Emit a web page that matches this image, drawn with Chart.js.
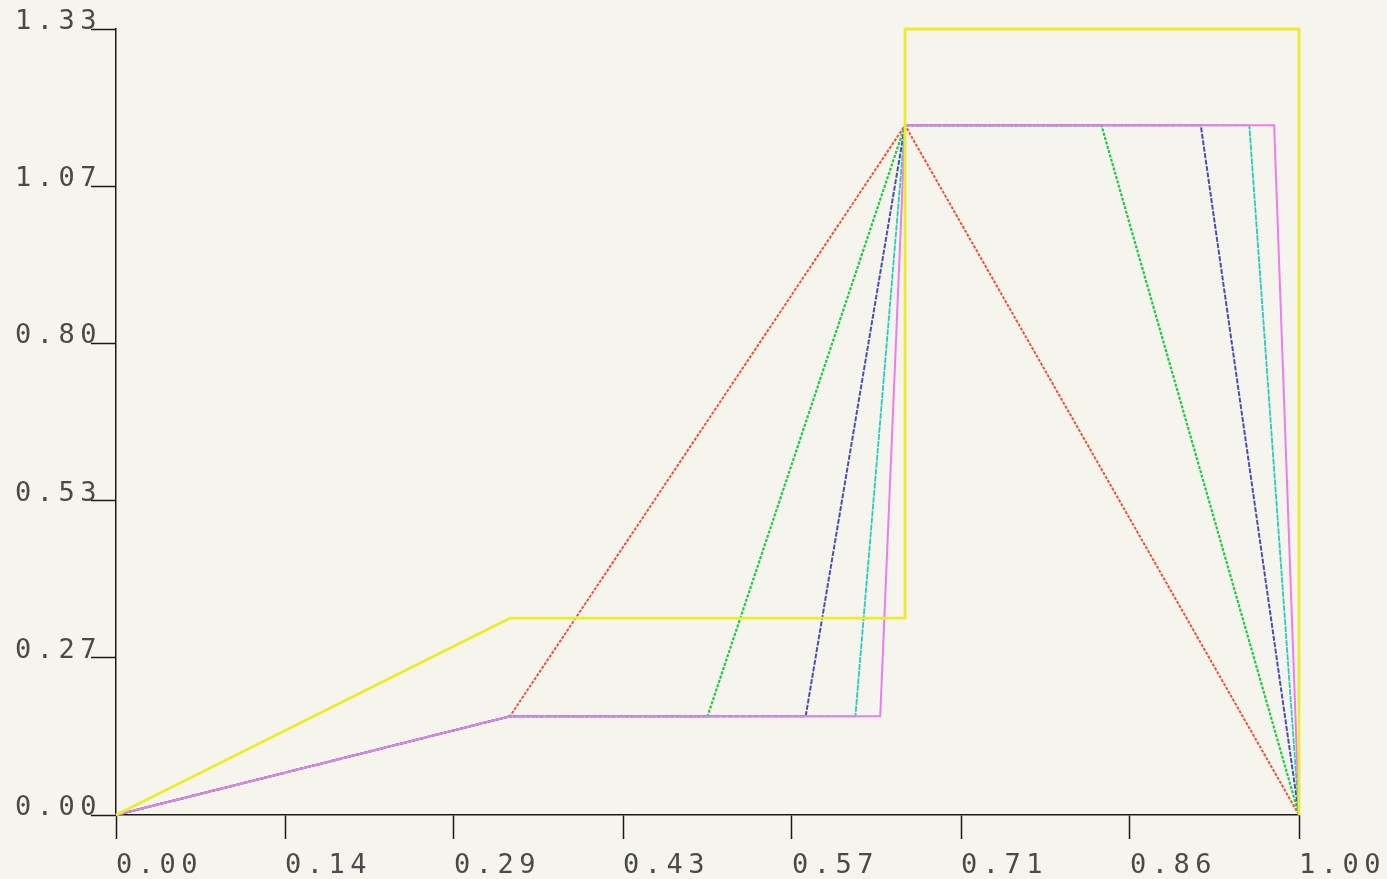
<!DOCTYPE html>
<html>
<head>
<meta charset="utf-8">
<script src="https://cdn.jsdelivr.net/npm/chart.js@4"></script>
<style>
  html, body { margin: 0; padding: 0; background: #f5f5ed; }
  #wrap { width: 1387px; height: 879px; }
  canvas { background: #f5f5ed; }
</style>
</head>
<body>
<div id="wrap"><canvas id="c" width="1387" height="879"></canvas></div>
<script>
// ---- data ----
const xTickValues = [0, 0.1429, 0.2857, 0.4286, 0.5714, 0.7143, 0.8571, 1.0];
const xTickLabels = ["0.00", "0.14", "0.29", "0.43", "0.57", "0.71", "0.86", "1.00"];
const yTickValues = [0, 0.266, 0.532, 0.798, 1.064, 1.33];
const yTickLabels = ["0.00", "0.27", "0.53", "0.80", "1.07", "1.33"];

const redX     = [0, 0.333, 0.667, 1.0];
const redY     = [0, 0.167, 1.167, 0];
const greenX   = [0, 0.333, 0.500, 0.667, 0.833, 1.0];
const greenY   = [0, 0.167, 0.167, 1.167, 1.167, 0];
const blueX    = [0, 0.333, 0.583, 0.667, 0.917, 1.0];
const blueY    = [0, 0.167, 0.167, 1.167, 1.167, 0];
const cyanX    = [0, 0.333, 0.625, 0.667, 0.958, 1.0];
const cyanY    = [0, 0.167, 0.167, 1.167, 1.167, 0];
const magentaX = [0, 0.333, 0.646, 0.667, 0.979, 1.0];
const magentaY = [0, 0.167, 0.167, 1.167, 1.167, 0];
const yellowX  = [0, 0.333, 0.667, 0.667, 1.0, 1.0];
const yellowY  = [0, 0.333, 0.333, 1.33, 1.33, 0];

function pts(xs, ys) { return xs.map((x, i) => ({ x: x, y: ys[i] })); }

function series(label, xs, ys, color, dash, width, order) {
  return {
    label: label,
    data: pts(xs, ys),
    showLine: true,
    borderColor: color,
    backgroundColor: color,
    borderWidth: width,
    borderDash: dash,
    pointRadius: 0,
    pointHoverRadius: 0,
    tension: 0,
    fill: false,
    order: order,
    clip: false
  };
}

const letterSpacingPlugin = {
  id: 'ls',
  beforeInit(chart) { chart.ctx.letterSpacing = '5.5px'; },
  beforeLayout(chart) { chart.ctx.letterSpacing = '5.5px'; },
  beforeDraw(chart) { chart.ctx.letterSpacing = '5.5px'; }
};

const tickFont = { family: "'DejaVu Sans Mono', monospace", size: 27, weight: 'normal' };

new Chart(document.getElementById('c'), {
  type: 'scatter',
  data: {
    datasets: [
      series('red', redX, redY, '#ee5536', [3, 1.5], 2, 6),
      series('green', greenX, greenY, '#1ccc45', [3, 1.5], 2.2, 5),
      series('blue', blueX, blueY, '#4a4fb2', [5, 1.5], 2, 4),
      series('cyan', cyanX, cyanY, '#28cdbd', [6, 1], 1.8, 3),
      series('magenta', magentaX, magentaY, '#f07af0', [], 2, 2),
      series('yellow', yellowX, yellowY, '#ecec2c', [], 2.8, 1)
    ]
  },
  plugins: [letterSpacingPlugin],
  options: {
    responsive: false,
    animation: false,
    devicePixelRatio: 1,
    layout: { padding: { left: 0, top: 29, right: 88, bottom: 0 } },
    plugins: { legend: { display: false }, tooltip: { enabled: false } },
    scales: {
      x: {
        type: 'linear',
        min: 0, max: 1,
        afterBuildTicks: s => { s.ticks = xTickValues.map(v => ({ value: v })); },
        afterFit: s => { s.height = 64; s.paddingRight = 0; s.paddingLeft = 0; },
        border: { display: true, color: '#1a1a1a', width: 1.5 },
        grid: { drawOnChartArea: false, drawTicks: true, tickLength: 24, tickColor: '#1a1a1a', tickWidth: 1.5 },
        ticks: {
          align: 'start',
          padding: 11,
          color: '#4a4a4a',
          font: tickFont,
          maxRotation: 0,
          autoSkip: false,
          callback: (v, i) => xTickLabels[i]
        }
      },
      y: {
        type: 'linear',
        min: 0, max: 1.33,
        afterBuildTicks: s => { s.ticks = yTickValues.map(v => ({ value: v })); },
        afterFit: s => { s.width = 116; s.paddingTop = 0; s.paddingBottom = 0; },
        border: { display: true, color: '#1a1a1a', width: 1.5 },
        grid: { drawOnChartArea: false, drawTicks: true, tickLength: 25, tickColor: '#1a1a1a', tickWidth: 1.5 },
        ticks: {
          padding: -11,
          labelOffset: -7,
          color: '#4a4a4a',
          font: tickFont,
          autoSkip: false,
          callback: (v, i) => yTickLabels[i]
        }
      }
    }
  }
});
</script>
</body>
</html>
